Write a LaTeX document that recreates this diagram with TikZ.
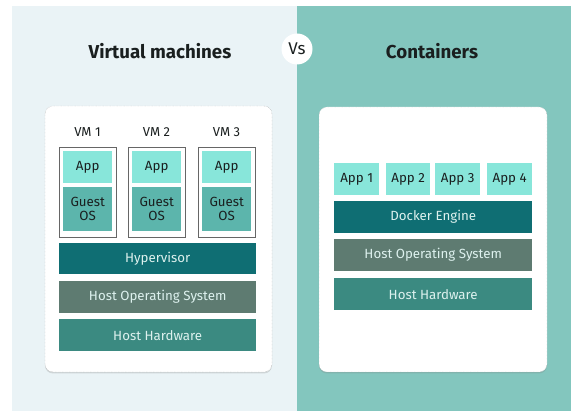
\documentclass[tikz,border=0pt]{standalone}
\usepackage{fontspec}
\setmainfont{Fira Sans}
\usetikzlibrary{shadows}
\definecolor{leftbg}{HTML}{EAF3F6}
\definecolor{rightbg}{HTML}{83C6BE}
\definecolor{appc}{HTML}{88E6DA}
\definecolor{guestc}{HTML}{5CB5AC}
\definecolor{enginec}{HTML}{0F6E73}
\definecolor{hostosc}{HTML}{5E7B71}
\definecolor{hwc}{HTML}{3B8A81}
\definecolor{lighttxt}{HTML}{DDF1EE}
\definecolor{darktxt}{HTML}{1A1F1F}
\tikzset{
  card/.style={draw=gray!70, densely dotted, fill=white, rounded corners=8pt,
    drop shadow={shadow xshift=0pt, shadow yshift=-1.5pt, opacity=0.25}},
  layer/.style={minimum height=#1, inner sep=0pt, font=\fontsize{13.3}{15}\selectfont, text=lighttxt},
  appbox/.style={fill=appc, text=darktxt, inner sep=0pt, font=\fontsize{13.3}{15}\selectfont},
  vmframe/.style={draw=gray!80!black, line width=0.6pt, fill=white},
  title/.style={font=\fontsize{18.7}{22}\selectfont\bfseries, text=darktxt},
  vmlabel/.style={font=\fontsize{13}{15}\selectfont, text=darktxt}
}
\begin{document}
\begin{tikzpicture}[x=1pt,y=-1pt]
  \useasboundingbox (0,0) rectangle (571,411);
  \fill[white] (0,0) rectangle (571,411);
  % two halves of the backdrop
  \fill[leftbg] (12,6) rectangle (297,411);
  \fill[rightbg] (297,6) rectangle (571,411);

  % headings
  \node[title] (tvm) at (160,51) {Virtual machines};
  \node[title] (tct) at (432,51) {Containers};
  \node[circle, fill=white, minimum size=31pt, inner sep=0pt,
        font=\fontsize{17}{20}\selectfont, text=darktxt] (vs) at (297,49) {Vs};

  % cards
  \draw[card] (45,106) rectangle (272,372);
  \draw[card] (319,107) rectangle (547,372);

  % virtual machine stacks
  \foreach \i/\xl in {1/59, 2/128, 3/198} {
    \draw[vmframe] (\xl,147) rectangle ++(57,90);
    \node[vmlabel] (vm\i) at (\xl+28.5,132) {VM \i};
    \node[appbox, minimum width=49pt, minimum height=32pt, anchor=north west] (app\i) at (\xl+4,151) {App};
    \node[appbox, fill=guestc, minimum width=49pt, minimum height=44pt, anchor=north west,
          align=center, font=\fontsize{13.3}{14}\selectfont] (guest\i) at (\xl+4,187) {Guest\\OS};
  }

  % shared layers of the virtual machine side
  \node[layer=31pt, fill=enginec, minimum width=197pt, anchor=north west] (hyp) at (59,243) {Hypervisor};
  \node[layer=32pt, fill=hostosc, minimum width=197pt, anchor=north west] (vmos) at (59,281) {Host Operating System};
  \node[layer=32pt, fill=hwc, minimum width=197pt, anchor=north west] (vmhw) at (59,319) {Host Hardware};

  % container side
  \foreach \i/\xl/\w in {1/334/45, 2/386/44, 3/435/45, 4/487/45} {
    \node[appbox, minimum width=\w pt, minimum height=32pt, anchor=north west] (capp\i) at (\xl,163) {App \i};
  }
  \node[layer=32pt, fill=enginec, minimum width=198pt, anchor=north west] (dock) at (334,201) {Docker Engine};
  \node[layer=32pt, fill=hostosc, minimum width=198pt, anchor=north west] (ctos) at (334,239) {Host Operating System};
  \node[layer=32pt, fill=hwc, minimum width=198pt, anchor=north west] (cthw) at (334,278) {Host Hardware};
\end{tikzpicture}
\end{document}
